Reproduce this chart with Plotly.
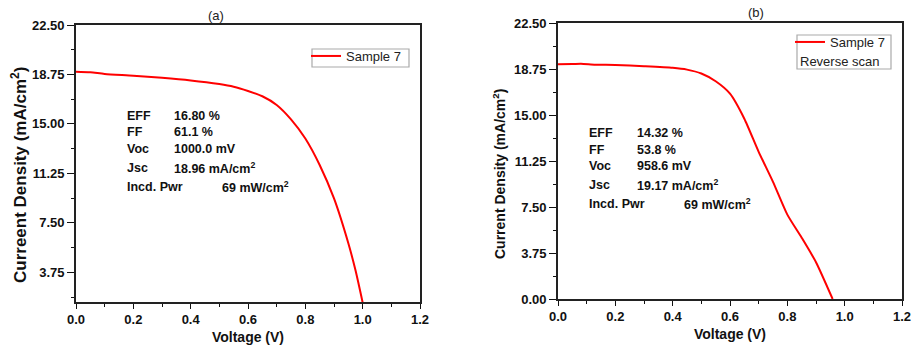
import plotly.graph_objects as go

# ---- data ----
voltage_a = [0.0, 0.05, 0.1, 0.2, 0.3, 0.4, 0.5, 0.55, 0.6, 0.65, 0.7, 0.75, 0.8, 0.85, 0.9, 0.95, 0.975, 1.0]
current_a = [18.96, 18.92, 18.79, 18.66, 18.5, 18.3, 18.02, 17.82, 17.5, 17.1, 16.44, 15.35, 13.9, 11.89, 9.35, 5.95, 3.9, 1.45]

voltage_b = [0.0, 0.05, 0.08, 0.13, 0.2, 0.3, 0.4, 0.45, 0.5, 0.55, 0.6, 0.65, 0.7, 0.75, 0.8, 0.85, 0.9, 0.958]
current_b = [19.14, 19.15, 19.18, 19.1, 19.08, 18.98, 18.85, 18.7, 18.38, 17.75, 16.74, 14.7, 12.0, 9.55, 6.88, 5.0, 3.0, 0.0]

labels_left = ["EFF", "FF", "Voc", "Jsc", "Incd. Pwr"]
values_a = ["16.80 %", "61.1 %", "1000.0 mV", "18.96 mA/cm<sup>2</sup>", "69 mW/cm<sup>2</sup>"]
values_b = ["14.32 %", "53.8 %", "958.6 mV", "19.17 mA/cm<sup>2</sup>", "69 mW/cm<sup>2</sup>"]

W, H = 914, 348
FONT = "Liberation Sans, Arial, sans-serif"
RED = "#ff0000"
INK = "#111"

def px(x):
    return x / W

def py(y):
    return 1 - y / H

fig = go.Figure()
fig.add_trace(go.Scatter(x=voltage_a, y=current_a, mode="lines", name="Sample 7",
                         line=dict(color=RED, width=2, shape="spline", smoothing=0.7),
                         xaxis="x", yaxis="y", legend="legend"))
fig.add_trace(go.Scatter(x=voltage_b, y=current_b, mode="lines", name="Sample 7",
                         line=dict(color=RED, width=2, shape="spline", smoothing=0.6),
                         xaxis="x2", yaxis="y2", legend="legend2"))

def xax(domain, anchor):
    return dict(domain=domain, anchor=anchor, range=[0, 1.2], tick0=0, dtick=0.2, tickformat=".1f",
                automargin=False,
                ticks="outside", ticklen=5, tickwidth=1.3, tickcolor=INK,
                minor=dict(dtick=0.1, ticks="outside", ticklen=3, tickcolor=INK, tickwidth=1.3),
                showline=True, linecolor="#222", linewidth=1.6, mirror=True, showgrid=False,
                zeroline=False, tickfont=dict(family=FONT, size=13, color=INK, weight="bold"),
                title=dict(text="<b>Voltage (V)</b>", font=dict(family=FONT, size=14, color=INK), standoff=6))

def yax(domain, anchor, rng):
    return dict(domain=domain, anchor=anchor, range=rng, tick0=0, dtick=3.75, tickformat=".2f",
                automargin=False,
                ticks="outside", ticklen=7, tickwidth=1.3, tickcolor=INK,
                minor=dict(dtick=1.875, ticks="outside", ticklen=3, tickcolor=INK, tickwidth=1.3),
                showline=True, linecolor="#222", linewidth=1.6, mirror=True, showgrid=False,
                zeroline=False, tickfont=dict(family=FONT, size=13, color=INK, weight="bold"))

fig.update_layout(
    width=W, height=H, margin=dict(l=0, r=0, t=0, b=0, autoexpand=False),
    paper_bgcolor="white", plot_bgcolor="white",
    xaxis=xax([px(76), px(420)], "y"),
    yaxis=yax([py(302), py(25)], "x", [1.5, 22.5]),
    xaxis2=xax([px(558), px(902)], "y2"),
    yaxis2=yax([py(299), py(23)], "x2", [0, 22.5]),
    legend=dict(x=px(306), y=py(41), xanchor="left", yanchor="top", borderwidth=0,
                font=dict(family=FONT, size=13, color="#222"), bgcolor="rgba(0,0,0,0)", itemwidth=30,
                tracegroupgap=0),
    legend2=dict(x=px(790), y=py(27), xanchor="left", yanchor="top", borderwidth=0,
                 font=dict(family=FONT, size=13, color="#222"), bgcolor="rgba(0,0,0,0)", itemwidth=30),
    showlegend=True,
)

# y-axis titles (placed as in the reference, slightly below the axis centre)
fig.add_annotation(xref="paper", yref="paper", x=px(19), y=py(175), textangle=-90, showarrow=False,
                   xanchor="center", yanchor="middle",
                   text="<b>Curreent Density (mA/cm<sup>2</sup>)</b>", font=dict(family=FONT, size=17, color=INK))
fig.add_annotation(xref="paper", yref="paper", x=px(499), y=py(174), textangle=-90, showarrow=False,
                   xanchor="center", yanchor="middle",
                   text="<b>Current Density (mA/cm<sup>2</sup>)</b>", font=dict(family=FONT, size=14, color=INK))

# legend frames and second line of legend (b)
fig.add_shape(type="rect", xref="paper", yref="paper", x0=px(312), x1=px(409), y0=py(67), y1=py(49),
              line=dict(color="#aaa", width=1.2))
fig.add_shape(type="rect", xref="paper", yref="paper", x0=px(797), x1=px(891), y0=py(69), y1=py(35),
              line=dict(color="#aaa", width=1.2))
fig.add_annotation(xref="paper", yref="paper", x=px(798), y=py(61), xanchor="left", yanchor="middle",
                   text="Reverse scan", showarrow=False, font=dict(family=FONT, size=13, color="#222"))

# panel titles
fig.add_annotation(xref="paper", yref="paper", x=px(216), y=py(16), text="(a)", showarrow=False,
                   xanchor="center", yanchor="middle", font=dict(family=FONT, size=13, color="#222"))
fig.add_annotation(xref="paper", yref="paper", x=px(756), y=py(13), text="(b)", showarrow=False,
                   xanchor="center", yanchor="middle", font=dict(family=FONT, size=13, color="#222"))

# parameter annotations
rows_a = [15.6, 14.39, 13.1, 11.66, 10.22]
rows_b = [13.53, 12.15, 10.85, 9.3, 7.75]
AF = dict(family=FONT, size=12.5, color=INK)
for i, lab in enumerate(labels_left):
    fig.add_annotation(xref="x", yref="y", x=0.171, y=rows_a[i], xanchor="left", yanchor="middle",
                       text="<b>" + lab + "</b>", showarrow=False, font=AF)
    fig.add_annotation(xref="x", yref="y", x=0.335 if i < 4 else 0.502, y=rows_a[i], xanchor="left",
                       yanchor="middle", text="<b>" + values_a[i] + "</b>", showarrow=False, font=AF)
    fig.add_annotation(xref="x2", yref="y2", x=0.101, y=rows_b[i], xanchor="left", yanchor="middle",
                       text="<b>" + lab + "</b>", showarrow=False, font=AF)
    fig.add_annotation(xref="x2", yref="y2", x=0.269 if i < 4 else 0.433, y=rows_b[i], xanchor="left",
                       yanchor="middle", text="<b>" + values_b[i] + "</b>", showarrow=False, font=AF)

fig.write_html("out.html", config={"displayModeBar": False},
               post_script="document.body.style.margin='0';document.body.style.overflow='hidden';")
